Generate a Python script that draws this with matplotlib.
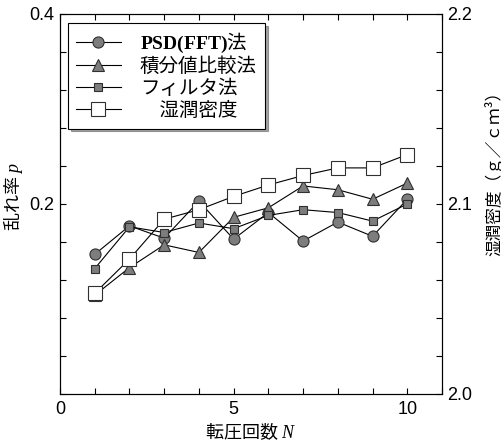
import numpy as np
import matplotlib
matplotlib.use("Agg")
import matplotlib.pyplot as plt
from matplotlib.font_manager import FontProperties

plt.rcParams["font.family"] = ["Liberation Sans", "Noto Sans CJK JP"]
plt.rcParams["mathtext.fontset"] = "custom"
plt.rcParams["mathtext.it"] = "Liberation Serif:italic"
plt.rcParams["mathtext.bf"] = "Liberation Serif:bold"
plt.rcParams["mathtext.rm"] = "Liberation Serif"

# data
N = [1, 2, 3, 4, 5, 6, 7, 8, 9, 10]
p_psd = [0.147, 0.177, 0.164, 0.203, 0.163, 0.191, 0.161, 0.181, 0.166, 0.205]
p_integral = [0.104, 0.133, 0.157, 0.149, 0.186, 0.196, 0.219, 0.215, 0.205, 0.222]
p_filter = [0.132, 0.176, 0.170, 0.180, 0.174, 0.188, 0.194, 0.191, 0.182, 0.200]
density = [2.053, 2.071, 2.092, 2.097, 2.104, 2.110, 2.115, 2.119, 2.119, 2.126]

labels = [r"$\mathbf{PSD(FFT)}$法", "積分値比較法", "フィルタ法", "\u3000湿潤密度"]
x_major = [0, 5, 10]
left_labeled = [0.2, 0.4]
right_labeled = [2.0, 2.1, 2.2]

fill = "#7d7d7d"
edge = "#303030"

fig = plt.figure(figsize=(5.02, 4.47), dpi=100)
ax = fig.add_axes([60 / 502, 53 / 447, 382 / 502, 380 / 447])
ax2 = ax.twinx()

h1, = ax.plot(N, p_psd, color="black", lw=0.8, marker="o", ms=8,
              mfc=fill, mec=edge, mew=0.8)
h2, = ax.plot(N, p_integral, color="black", lw=0.8, marker="^", ms=8,
              mfc=fill, mec=edge, mew=0.8)
h3, = ax.plot(N, p_filter, color="black", lw=0.8, marker="s", ms=5.5,
              mfc=fill, mec=edge, mew=0.8)
h4, = ax2.plot(N, density, color="black", lw=0.8, marker="s", ms=9.5,
               mfc="white", mec=edge, mew=0.8)

ax.set_xlim(0, 11)
ax.set_ylim(0, 0.4)
ax2.set_ylim(2.0, 2.2)

xt = np.arange(0, 12, 1)
ax.set_xticks(xt)
ax.set_xticklabels([str(v) if v in x_major else "" for v in xt])

yt = np.round(np.arange(0, 0.401, 0.04), 2)
ax.set_yticks(yt)
ax.set_yticklabels([f"{v:.1f}" if any(abs(v - l) < 1e-6 for l in left_labeled) else "" for v in yt])

yt2 = np.round(np.arange(2.0, 2.201, 0.02), 2)
ax2.set_yticks(yt2)
ax2.set_yticklabels([f"{v:.1f}" if any(abs(v - l) < 1e-6 for l in right_labeled) else "" for v in yt2])

ax.tick_params(axis="x", direction="in", top=True, length=4, width=0.8,
               labelsize=13, pad=5)
ax.tick_params(axis="y", direction="in", length=4, width=0.8, labelsize=13, pad=4)
ax2.tick_params(axis="y", direction="in", length=4, width=0.8, labelsize=13, pad=4)
for a in (ax, ax2):
    for s in a.spines.values():
        s.set_linewidth(0.8)

cjk = "Noto Sans CJK JP"
ax.set_xlabel("転圧回数 $N$", family=cjk, fontsize=13, labelpad=2)
ax.set_ylabel("乱れ率 $p$", family=cjk, fontsize=13)
ax.yaxis.set_label_coords(-0.092, 0.52)
ax2.set_ylabel("湿潤密度（ｇ／ｃｍ³）", family=cjk, fontsize=12, rotation=90)
ax2.yaxis.set_label_coords(1.11, 0.59)

leg = ax2.legend([h1, h2, h3, h4], labels, loc="upper left",
                 bbox_to_anchor=(0.021, 0.976), prop=FontProperties(family=cjk, size=14),
                 handlelength=2.3, handletextpad=1.0, labelspacing=0.05,
                 borderpad=0.4, borderaxespad=0, fancybox=False, shadow=True,
                 framealpha=1, edgecolor="black")
leg.get_frame().set_linewidth(0.8)

fig.savefig("out.png", dpi=100)
